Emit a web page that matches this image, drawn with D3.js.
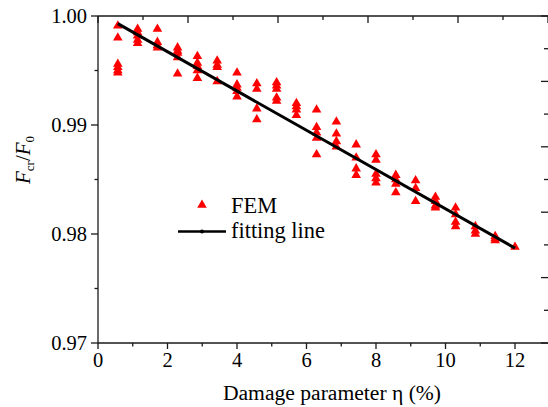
<!DOCTYPE html>
<html>
<head>
<meta charset="utf-8">
<script src="https://cdn.jsdelivr.net/npm/d3@7"></script>
<style>
  html, body { margin: 0; padding: 0; background: #fff; }
  svg { display: block; }
</style>
</head>
<body>
<svg id="chart" width="548" height="407"></svg>
<script>
// Damage parameter levels (%)
const etaLevels = [0.57, 1.14, 1.71, 2.29, 2.86, 3.43, 4.00, 4.57, 5.14, 5.71, 6.29,
                   6.86, 7.43, 8.00, 8.57, 9.14, 9.71, 10.29, 10.86, 11.43, 12.00];
// FEM buckling load ratios Fcr/F0 at each damage level
const femRatios = [
  [0.9991, 0.9980, 0.9956, 0.9953, 0.9950, 0.9948],
  [0.9988, 0.9985, 0.9982, 0.9978, 0.9975],
  [0.9988, 0.9976, 0.9973, 0.9971],
  [0.9971, 0.9968, 0.9966, 0.9962, 0.9947],
  [0.9963, 0.9957, 0.9954, 0.9950, 0.9943],
  [0.9959, 0.9955, 0.9953, 0.9940],
  [0.9948, 0.9937, 0.9934, 0.9931, 0.9926],
  [0.9938, 0.9933, 0.9915, 0.9905],
  [0.9939, 0.9936, 0.9933, 0.9925, 0.9922],
  [0.9920, 0.9917, 0.9914, 0.9909],
  [0.9914, 0.9898, 0.9893, 0.9888, 0.9873],
  [0.9903, 0.9892, 0.9885, 0.9880],
  [0.9882, 0.9870, 0.9860, 0.9854],
  [0.9873, 0.9868, 0.9855, 0.9851, 0.9847],
  [0.9854, 0.9850, 0.9846, 0.9838],
  [0.9849, 0.9842, 0.9830],
  [0.9834, 0.9830, 0.9826, 0.9824],
  [0.9824, 0.9818, 0.9811, 0.9807],
  [0.9807, 0.9803, 0.9800],
  [0.9798, 0.9796, 0.9794],
  [0.9788]
];
// Linear fitting line end points
const fitEta = [0.57, 12.0];
const fitRatio = [0.9993, 0.9787];

const xTicks = [0, 2, 4, 6, 8, 10, 12];
const xMinorTicks = [1, 3, 5, 7, 9, 11];
const yTicks = [0.97, 0.98, 0.99, 1.00];
const yMinorTicks = [0.975, 0.985, 0.995];

const serif = "'Liberation Serif', 'Times New Roman', 'DejaVu Serif', serif";
const svg = d3.select("#chart").attr("font-family", serif);
const plotL = 98, plotR = 548, plotT = 16, plotB = 343;

const x = d3.scaleLinear().domain([0, 12]).range([plotL, 515]);
const y = d3.scaleLinear().domain([0.97, 1.00]).range([plotB, plotT]);
// secondary frame scales on top and right edges
const xTop = d3.scaleLinear().domain([0, 5]).range([plotL, plotR]);
const yRight = d3.scaleLinear().domain([0, 5]).range([plotB, plotT]);

const ink = "#1a1a1a";

// FEM points
const points = [];
etaLevels.forEach((e, i) => femRatios[i].forEach(v => points.push({ eta: e, ratio: v })));
const tri = d3.symbol().type(d3.symbolTriangle).size(40);
svg.append("g").selectAll("path").data(points).join("path")
  .attr("d", tri)
  .attr("transform", d => `translate(${x(d.eta)},${y(d.ratio)})`)
  .attr("fill", "#ff0000");

// fitting line
const fitData = fitEta.map((e, i) => ({ eta: e, ratio: fitRatio[i] }));
svg.append("path")
  .datum(fitData)
  .attr("d", d3.line().x(d => x(d.eta)).y(d => y(d.ratio)))
  .attr("fill", "none").attr("stroke", "#000").attr("stroke-width", 3);

// frame (right edge sits just past the canvas border)
const frame = svg.append("g").attr("stroke", ink).attr("stroke-width", 1.3).attr("fill", "none");
frame.append("line").attr("x1", plotL).attr("x2", plotR + 1).attr("y1", plotB).attr("y2", plotB);
frame.append("line").attr("x1", plotL).attr("x2", plotR + 1).attr("y1", plotT).attr("y2", plotT);
frame.append("line").attr("x1", plotL).attr("x2", plotL).attr("y1", plotT).attr("y2", plotB);
frame.append("line").attr("x1", plotR + 0.8).attr("x2", plotR + 0.8).attr("y1", plotT).attr("y2", plotB);

// bottom axis ticks (outward)
xTicks.forEach(t => frame.append("line").attr("x1", x(t)).attr("x2", x(t)).attr("y1", plotB).attr("y2", plotB + 6));
xMinorTicks.forEach(t => frame.append("line").attr("x1", x(t)).attr("x2", x(t)).attr("y1", plotB).attr("y2", plotB + 3.5));
// left axis ticks (outward)
yTicks.forEach(t => frame.append("line").attr("x1", plotL - 7).attr("x2", plotL).attr("y1", y(t)).attr("y2", y(t)));
yMinorTicks.forEach(t => frame.append("line").attr("x1", plotL - 3.5).attr("x2", plotL).attr("y1", y(t)).attr("y2", y(t)));
// top axis ticks (inward)
d3.range(0, 5.01, 0.5).forEach(t => {
  const len = Number.isInteger(t) ? 7 : 4;
  frame.append("line").attr("x1", xTop(t)).attr("x2", xTop(t)).attr("y1", plotT).attr("y2", plotT + len);
});
// right axis ticks (inward)
d3.range(0, 5.01, 0.5).forEach(t => {
  const len = Number.isInteger(t) ? 7 : 4;
  frame.append("line").attr("x1", plotR - len).attr("x2", plotR).attr("y1", yRight(t)).attr("y2", yRight(t));
});

// tick labels
svg.append("g").selectAll("text").data(xTicks).join("text")
  .attr("x", d => x(d)).attr("y", plotB + 24)
  .attr("text-anchor", "middle").attr("font-size", 20.5)
  .text(d => d);
svg.append("g").selectAll("text").data(yTicks).join("text")
  .attr("x", plotL - 11).attr("y", d => y(d) + 6.5)
  .attr("text-anchor", "end").attr("font-size", 20.5)
  .text(d => d3.format(".2f")(d));

// axis titles
svg.append("text")
  .attr("x", 332).attr("y", 400)
  .attr("text-anchor", "middle").attr("font-size", 21.6)
  .text("Damage parameter η (%)");

const yTitle = svg.append("text")
  .attr("transform", "translate(30,160) rotate(-90)")
  .attr("text-anchor", "middle").attr("font-size", 21);
yTitle.append("tspan").attr("font-style", "italic").text("F");
yTitle.append("tspan").attr("font-size", 13).attr("dy", 4).text("cr");
yTitle.append("tspan").attr("dy", -4).text("/");
yTitle.append("tspan").attr("font-style", "italic").text("F");
yTitle.append("tspan").attr("font-size", 13).attr("dy", 4).text("0");

// legend
const lg = svg.append("g");
lg.append("path").attr("d", tri).attr("transform", "translate(202,205)").attr("fill", "#ff0000");
lg.append("text").attr("x", 231).attr("y", 213).attr("font-size", 22.4).text("FEM");
lg.append("line").attr("x1", 178).attr("x2", 226).attr("y1", 231.5).attr("y2", 231.5)
  .attr("stroke", "#000").attr("stroke-width", 2.5);
lg.append("circle").attr("cx", 202).attr("cy", 231.5).attr("r", 2).attr("fill", "#000");
lg.append("text").attr("x", 231).attr("y", 238).attr("font-size", 22.4).text("fitting line");
</script>
</body>
</html>
